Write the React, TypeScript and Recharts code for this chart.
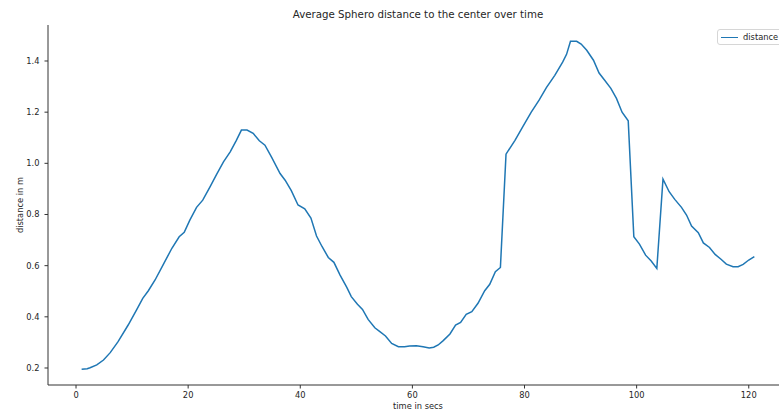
import { LineChart, Line, XAxis, YAxis } from "recharts";

// sample times (s) and mean distance from the center (m)
const seconds = [
  1, 2, 2.5, 3.7, 4.9, 6.1, 7.5, 9.3, 10.8, 11.9, 12.9, 14.1, 15.6, 17.1, 18.4, 19.3,
  20.3, 21.5, 22.6, 23.9, 25.1, 26.3, 27.5, 28.6, 29.5, 30.5, 31.6, 32.7, 33.7, 34.9,
  36.4, 37.3, 38.4, 39.6, 40.8, 41.9, 42.9, 43.9, 45.0, 46.0, 47.1, 48.3, 49.1, 50.2,
  51.1, 52.1, 53.3, 54.2, 55.2, 56.3, 57.5, 58.6, 59.5, 60.7, 61.9, 63.0, 63.8, 64.6,
  65.5, 66.7, 67.7, 68.6, 69.6, 70.6, 71.7, 72.9, 73.8, 74.8, 75.7, 76.7, 78.3, 79.7,
  81.2, 82.6, 83.9, 85.4, 86.8, 87.5, 88.2, 89.3, 90.1, 91.1, 92.3, 93.3, 94.3, 95.4,
  96.4, 97.4, 98.5, 99.5, 100.5, 101.6, 102.6, 103.6, 104.7, 105.8, 106.8, 108.0,
  108.9, 109.8, 111.0, 111.9, 113.0, 114.0, 115.0, 116.0, 117.2, 118.1, 119.0, 120.0,
  121.0,
];
const distance = [
  0.195, 0.197, 0.201, 0.212, 0.231, 0.26, 0.303, 0.368, 0.427, 0.472, 0.502, 0.544,
  0.606, 0.668, 0.713, 0.73, 0.778, 0.828, 0.856, 0.908, 0.958, 1.006, 1.045, 1.09,
  1.13, 1.13, 1.117, 1.088, 1.071, 1.023, 0.96, 0.934, 0.893, 0.837, 0.822, 0.786,
  0.716, 0.674, 0.632, 0.613, 0.563, 0.515, 0.479, 0.449, 0.429, 0.39, 0.357, 0.342,
  0.325, 0.296, 0.283, 0.283, 0.286, 0.287, 0.283, 0.278, 0.281, 0.29, 0.307, 0.333,
  0.368, 0.378, 0.41, 0.42, 0.453, 0.502, 0.527, 0.576, 0.593, 1.036, 1.09, 1.143,
  1.2, 1.247, 1.296, 1.344, 1.396, 1.426, 1.477, 1.477, 1.466, 1.442, 1.403, 1.353,
  1.325, 1.293, 1.254, 1.2, 1.166, 0.713, 0.684, 0.641, 0.618, 0.589, 0.938, 0.889,
  0.859, 0.828, 0.798, 0.755, 0.729, 0.689, 0.671, 0.644, 0.626, 0.606, 0.596, 0.596,
  0.605, 0.622, 0.635,
];
const xTicks = [0, 20, 40, 60, 80, 100, 120];
const yTicks = [0.2, 0.4, 0.6, 0.8, 1.0, 1.2, 1.4];

const rows = seconds.map((t, i) => ({ t, distance: distance[i] }));

const FONT = "DejaVu Sans, sans-serif";
const INK = "#262626";
const SPINE = "#333";

const text = (extra: React.CSSProperties): React.CSSProperties => ({
  position: "absolute",
  whiteSpace: "nowrap",
  color: INK,
  ...extra,
});

export default function App() {
  return (
    <div
      style={{
        position: "absolute",
        left: 0,
        top: 0,
        width: 779,
        height: 416,
        overflow: "hidden",
        background: "#fff",
        fontFamily: FONT,
      }}
    >
      <div style={text({ top: 8, left: 418, transform: "translateX(-50%)", fontSize: 10.25 })}>
        Average Sphero distance to the center over time
      </div>
      <div style={text({ top: 401, left: 418, transform: "translateX(-50%)", fontSize: 8.3 })}>
        time in secs
      </div>
      <div
        style={text({
          top: 205,
          left: 20,
          transform: "translate(-50%, -50%) rotate(-90deg)",
          fontSize: 8.3,
        })}
      >
        distance in m
      </div>
      {/* legend, pinned to the upper right of the axes */}
      <div
        style={{
          position: "absolute",
          top: 29,
          left: 717,
          width: 80,
          height: 14,
          display: "flex",
          alignItems: "center",
          border: "1px solid #d6d6d6",
          borderRadius: 3,
          background: "rgba(255,255,255,0.8)",
          fontSize: 8.3,
          color: INK,
          zIndex: 2,
        }}
      >
        <span
          style={{
            display: "inline-block",
            width: 17,
            height: 0,
            borderTop: "1.5px solid #1f77b4",
            marginLeft: 3,
            marginRight: 5,
          }}
        />
        <span>distance</span>
      </div>
      <LineChart width={800} height={416} data={rows} margin={{ top: 25, right: 12, bottom: 0, left: 0 }}>
        <XAxis
          dataKey="t"
          type="number"
          domain={[-5, 127]}
          allowDataOverflow
          ticks={xTicks}
          height={31}
          tickSize={3.5}
          tickMargin={4}
          tick={{ fill: INK, fontSize: 8.3, fontFamily: FONT }}
          axisLine={{ stroke: SPINE }}
          tickLine={{ stroke: SPINE }}
        />
        <XAxis
          xAxisId="top"
          orientation="top"
          type="number"
          domain={[0, 1]}
          height={0}
          tick={false}
          tickLine={false}
          axisLine={{ stroke: SPINE }}
        />
        <YAxis
          type="number"
          domain={[0.1335, 1.5407]}
          allowDataOverflow
          ticks={yTicks}
          width={48}
          tickSize={3.5}
          tickMargin={5}
          tickFormatter={(v: number) => v.toFixed(1)}
          tick={{ fill: INK, fontSize: 8.3, fontFamily: FONT }}
          axisLine={{ stroke: SPINE }}
          tickLine={{ stroke: SPINE }}
        />
        <Line
          type="linear"
          dataKey="distance"
          stroke="#1f77b4"
          strokeWidth={1.5}
          dot={false}
          isAnimationActive={false}
        />
      </LineChart>
    </div>
  );
}
